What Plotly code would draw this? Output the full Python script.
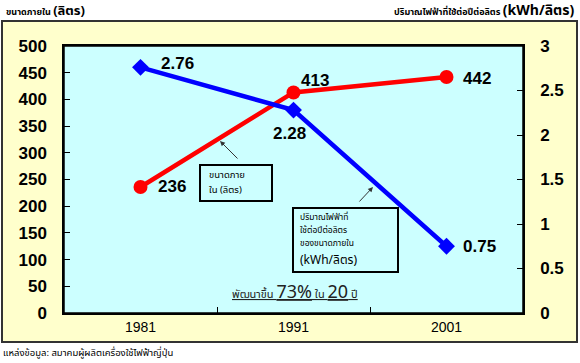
import plotly.graph_objects as go

years = ["1981", "1991", "2001"]
capacity = [236, 413, 442]          # ขนาดภายใน (ลิตร)
kwh_per_litre = [2.76, 2.28, 0.75]  # kWh/ลิตร

cap_labels = ["236", "413", "442"]
kwh_labels = ["2.76", "2.28", "0.75"]

W, H = 580, 363
L, R, T, B = 64, 523, 46, 313

def px(x):
    return (x - L) / (R - L)

def py(y):
    return (B - y) / (B - T)

FONT = "Arial, Liberation Sans, sans-serif"
THAI = "Tahoma, Noto Sans Thai, Loma, Garuda, Arial, sans-serif"

idx = list(range(len(years)))

fig = go.Figure()
fig.add_trace(go.Scatter(
    x=idx, y=capacity, mode="lines+markers", yaxis="y",
    line=dict(color="#FF0000", width=4.5),
    marker=dict(symbol="circle", size=14, color="#FF0000"),
    showlegend=False, hoverinfo="skip"))
fig.add_trace(go.Scatter(
    x=idx, y=kwh_per_litre, mode="lines+markers", yaxis="y2",
    line=dict(color="#0000FF", width=4.5),
    marker=dict(symbol="diamond", size=13, color="#0000FF"),
    showlegend=False, hoverinfo="skip"))

def rect(x0, y0, x1, y1, fill, color, width):
    return dict(type="rect", xref="paper", yref="paper", layer="below",
                x0=px(x0), x1=px(x1), y0=py(y1), y1=py(y0),
                fillcolor=fill, line=dict(color=color, width=width))

shapes = [
    rect(2, 21, 577, 342, "#FFFFCC", "#333333", 2),
    dict(type="rect", xref="paper", yref="paper", layer="below",
         x0=0, x1=1, y0=0, y1=1,
         fillcolor="#CCFFFF", line=dict(color="#000000", width=1.5)),
    rect(200, 165, 272, 201, "#CCFFFF", "#000000", 2),
    rect(293, 208, 398, 272, "#CCFFFF", "#000000", 2),
]

annotations = []
cap_off = [(31, 0), (21, 12), (30, -2)]
for i, v, lab, (dx, dy) in zip(idx, capacity, cap_labels, cap_off):
    annotations.append(dict(x=i, y=v, xref="x", yref="y", text=lab, showarrow=False,
                            xshift=dx, yshift=dy, xanchor="center", yanchor="middle",
                            font=dict(family=FONT, size=17, color="black", weight="bold")))
kwh_off = [(37, 4), (-4, -23), (33, 0)]
for i, v, lab, (dx, dy) in zip(idx, kwh_per_litre, kwh_labels, kwh_off):
    annotations.append(dict(x=i, y=v, xref="x", yref="y2", text=lab, showarrow=False,
                            xshift=dx, yshift=dy, xanchor="center", yanchor="middle",
                            font=dict(family=FONT, size=17, color="black", weight="bold")))

def note(x, y, text, size, anchor="left", color="black"):
    annotations.append(dict(x=px(x), y=py(y), xref="paper", yref="paper",
                            xanchor=anchor, yanchor="middle", text=text, showarrow=False,
                            borderpad=0, font=dict(family=THAI, size=size, color=color)))

note(208, 175, "ขนาดภาย", 9.5)
note(208, 190, "ใน (ลิตร)", 9.5)
note(299, 217, "ปริมาณไฟฟ้าที่", 8.5)
note(299, 230, "ใช้ต่อปีต่อลิตร", 8.5)
note(299, 243, "ของขนาดภายใน", 8.5)
note(299, 259.5, "(kWh/ลิตร)", 12)

annotations.append(dict(x=px(220), y=py(141), xref="paper", yref="paper", text="",
                        showarrow=True, ax=19, ay=19, arrowhead=2, arrowsize=1,
                        arrowwidth=1, arrowcolor="#333333"))
annotations.append(dict(x=px(373), y=py(187), xref="paper", yref="paper", text="",
                        showarrow=True, ax=-15, ay=16, arrowhead=2, arrowsize=1,
                        arrowwidth=1, arrowcolor="#333333"))

note(295, 292, "<u>พัฒนาขึ้น <span style='font-size:18px'>73%</span> ใน <span style='font-size:18px'>20</span> ปี</u>",
     11, anchor="center", color="#222222")
note(5, 11, "<b>ขนาดภายใน <span style='font-size:13px'>(ลิตร)</span></b>", 9)
note(576, 11, "<b>ปริมาณไฟฟ้าที่ใช้ต่อปีต่อลิตร <span style='font-size:14px'>(kWh/ลิตร)</span></b>",
     9, anchor="right")
note(2, 353, "แหล่งข้อมูล: สมาคมผู้ผลิตเครื่องใช้ไฟฟ้าญี่ปุ่น", 9.5)

fig.update_layout(
    width=W, height=H,
    margin=dict(l=L, r=W - R, t=T, b=H - B, pad=0, autoexpand=False),
    paper_bgcolor="white", plot_bgcolor="rgba(0,0,0,0)",
    shapes=shapes, annotations=annotations,
    xaxis=dict(range=[-0.5, 2.5], tickmode="array", tickvals=idx, ticktext=years,
               ticks="", showline=True, linecolor="black", linewidth=1.5, mirror=True,
               showgrid=False, zeroline=False, automargin=False, tickangle=0,
               tickfont=dict(family=FONT, size=14, color="black")),
    xaxis2=dict(range=[-0.5, 2.5], overlaying="x", tickmode="array", tickvals=[0.5, 1.5],
                ticks="inside", ticklen=6, tickcolor="black", showticklabels=False,
                showline=False, showgrid=False, zeroline=False),
    yaxis=dict(range=[0, 500], dtick=50, ticks="inside", ticklen=6, tickcolor="black",
               showline=True, linecolor="black", linewidth=1.5, showgrid=False, zeroline=False,
               ticklabelstandoff=12, automargin=False,
               tickfont=dict(family=FONT, size=17, color="black", weight="bold")),
    yaxis2=dict(range=[0, 3], dtick=0.5, overlaying="y", side="right",
                ticks="inside", ticklen=6, tickcolor="black",
                showline=True, linecolor="black", linewidth=1.5, showgrid=False, zeroline=False,
                ticklabelstandoff=12, automargin=False,
                tickfont=dict(family=FONT, size=17, color="black", weight="bold")),
)
fig.add_trace(go.Scatter(x=[None], y=[None], xaxis="x2", showlegend=False, hoverinfo="skip"))

fig.write_html("out.html", config={"displayModeBar": False},
               post_script="document.body.style.margin='0';document.body.style.padding='0';")
